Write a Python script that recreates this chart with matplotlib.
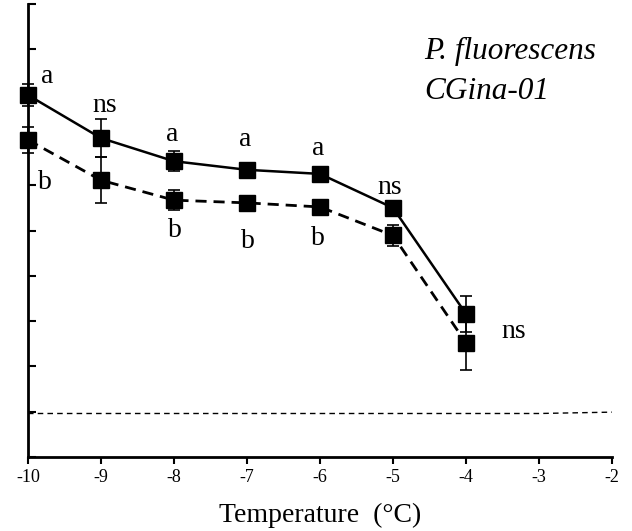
import matplotlib
matplotlib.use("Agg")
import matplotlib.pyplot as plt

plt.rcParams['font.family'] = ['Liberation Serif', 'DejaVu Serif']
plt.rcParams['axes.unicode_minus'] = False

# data
temps = [-10, -9, -8, -7, -6, -5, -4]
solid_vals = [79.9, 70.4, 65.3, 63.4, 62.5, 55.0, 31.6]
solid_err = [2.5, 4.2, 2.2, 1.5, 1.5, 1.0, 3.9]
dash_vals = [70.0, 61.1, 56.7, 56.1, 55.2, 48.9, 25.2]
dash_err = [2.9, 5.1, 2.2, 0.8, 1.0, 2.4, 6.0]

base_x = [-10, -3, -2]
base_y = [9.6, 9.6, 9.9]

labels = ['a', 'b', 'ns', 'a', 'a', 'a', 'b', 'b', 'b', 'ns', 'ns']
label_x = [-9.74, -9.77, -8.95, -8.03, -7.03, -6.03, -7.99, -6.99, -6.03, -5.04, -3.34]
label_y = [83.9, 60.5, 77.7, 71.1, 70.0, 68.2, 50.1, 47.5, 48.3, 59.4, 27.6]

fig = plt.figure(figsize=(6.32, 5.31), dpi=100)
ax = fig.add_axes([0.0443, 0.1394, 0.924, 0.853])

ax.plot(base_x, base_y, color='black', lw=1, ls=(0, (4, 3)))

ax.errorbar(temps, dash_vals, yerr=dash_err, color='black', lw=2,
            ls=(0, (4, 2.5)), marker='s', ms=11, capsize=4, elinewidth=1.2,
            capthick=1.2, clip_on=False, zorder=3)
ax.errorbar(temps, solid_vals, yerr=solid_err, color='black', lw=1.8,
            marker='s', ms=11, capsize=4, elinewidth=1.2, capthick=1.2,
            clip_on=False, zorder=4)

for t, x, y in zip(labels, label_x, label_y):
    ax.text(x, y, t, fontsize=20, ha='center', va='center')

ax.text(0.678, 0.896, 'P. fluorescens', fontsize=22.5, style='italic',
        transform=ax.transAxes, ha='left', va='center')
ax.text(0.678, 0.808, 'CGina-01', fontsize=22.5, style='italic',
        transform=ax.transAxes, ha='left', va='center')

ax.set_xlim(-10, -2)
ax.set_ylim(0, 100)
ax.set_xticks(range(-10, -1))
ax.set_yticks(range(0, 101, 10))
ax.set_yticklabels([])
ax.tick_params(axis='x', direction='out', length=5, width=1.5, labelsize=13)
ax.tick_params(axis='y', direction='in', length=6, width=1.5)
ax.spines['top'].set_visible(False)
ax.spines['right'].set_visible(False)
ax.spines['left'].set_linewidth(2)
ax.spines['bottom'].set_linewidth(2)
ax.set_xlabel('Temperature  (°C)', fontsize=20, labelpad=12)

fig.savefig('out.png', dpi=100)
